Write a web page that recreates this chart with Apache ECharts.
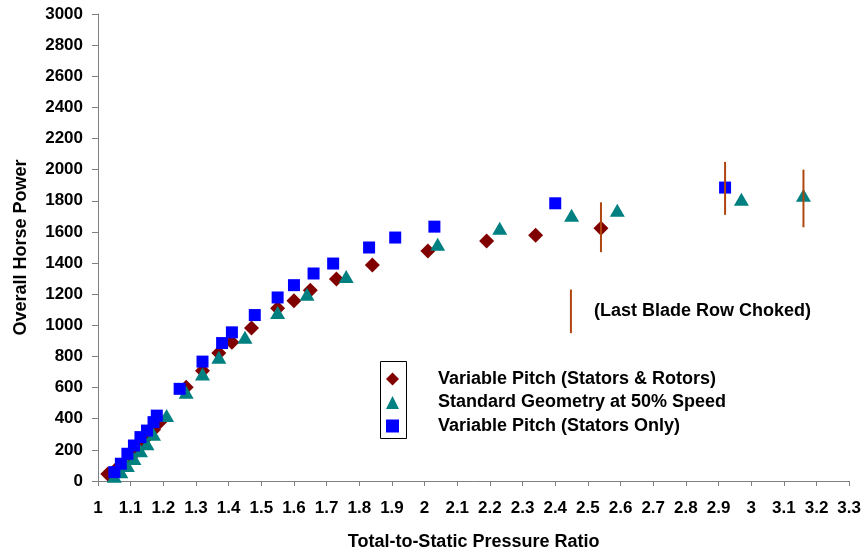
<!DOCTYPE html>
<html>
<head>
<meta charset="utf-8">
<script src="https://cdn.jsdelivr.net/npm/echarts@6/dist/echarts.min.js"></script>
<style>
  html, body { margin: 0; padding: 0; background: #fff; }
  #chart { width: 864px; height: 556px; }
</style>
</head>
<body>
<div id="chart"></div>
<script>
// pressure ratio / horse power
var rotorsX = [1.03, 1.06, 1.09, 1.11, 1.13, 1.15, 1.17, 1.19, 1.27, 1.32, 1.37, 1.41, 1.47, 1.55, 1.60, 1.65, 1.73, 1.84, 2.01, 2.19, 2.34, 2.54];
var rotorsY = [45, 85, 130, 175, 225, 285, 330, 380, 602, 709, 822, 891, 983, 1109, 1158, 1226, 1297, 1387, 1478, 1542, 1579, 1624];

var standardX = [1.05, 1.07, 1.09, 1.11, 1.13, 1.15, 1.17, 1.21, 1.27, 1.32, 1.37, 1.45, 1.55, 1.64, 1.76, 2.04, 2.23, 2.45, 2.59, 2.97, 3.16];
var standardY = [30, 60, 100, 145, 195, 240, 300, 420, 570, 688, 795, 923, 1083, 1200, 1314, 1521, 1624, 1707, 1739, 1810, 1835];

var statorsX = [1.05, 1.07, 1.09, 1.11, 1.13, 1.15, 1.17, 1.18, 1.25, 1.32, 1.38, 1.41, 1.48, 1.55, 1.60, 1.66, 1.72, 1.83, 1.91, 2.03, 2.40, 2.92];
var statorsY = [57, 111, 175, 228, 282, 324, 378, 420, 592, 767, 886, 955, 1066, 1179, 1258, 1333, 1397, 1500, 1564, 1634, 1784, 1885];

// choked-row bars (last one is the key next to the note)
var chokeX = [2.54, 2.92, 3.16, 2.448];
var chokeLo = [1470, 1710, 1630, 950];
var chokeHi = [1790, 2050, 2000, 1230];

var names = ['Variable Pitch (Stators & Rotors)', 'Standard Geometry at 50% Speed', 'Variable Pitch (Stators Only)'];

function pairs(xs, ys) {
  return xs.map(function (x, i) { return [x, ys[i]]; });
}

var chart = echarts.init(document.getElementById('chart'));
var font = 'Liberation Sans, Arial, sans-serif';

chart.setOption({
  animation: false,
  backgroundColor: '#fff',
  grid: { left: 98, right: 14, top: 14, bottom: 74 },
  xAxis: {
    type: 'value',
    min: 1, max: 3.3, interval: 0.1,
    name: 'Total-to-Static Pressure Ratio',
    nameLocation: 'middle',
    nameGap: 52,
    nameTextStyle: { fontFamily: font, fontWeight: 'bold', fontSize: 18, color: '#000' },
    axisLine: { lineStyle: { color: '#808080', width: 1 } },
    axisTick: { length: 5, lineStyle: { color: '#808080' } },
    splitLine: { show: false },
    axisLabel: {
      margin: 19,
      fontFamily: font, fontWeight: 'bold', fontSize: 17, color: '#000',
      formatter: function (v) { return String(Math.round(v * 10) / 10); }
    }
  },
  yAxis: {
    type: 'value',
    min: 0, max: 3000, interval: 200,
    name: 'Overall Horse Power',
    nameLocation: 'middle',
    nameGap: 68,
    nameTextStyle: { fontFamily: font, fontWeight: 'bold', fontSize: 18, color: '#000' },
    axisLine: { show: true, lineStyle: { color: '#808080', width: 1 } },
    axisTick: { show: true, length: 6, lineStyle: { color: '#808080' } },
    splitLine: { show: false },
    axisLabel: {
      margin: 15, fontFamily: font, fontWeight: 'bold', fontSize: 17, color: '#000',
      formatter: function (v) { return String(v); }
    }
  },
  legend: {
    orient: 'vertical',
    left: 386, top: 370,
    padding: 0,
    itemWidth: 13, itemHeight: 13, itemGap: 5.5,
    data: names,
    textStyle: { fontFamily: font, fontWeight: 'bold', fontSize: 18, color: '#000', padding: [0, 0, 0, 34] }
  },
  graphic: [
    {
      type: 'rect',
      shape: { x: 380.5, y: 361.5, width: 26, height: 77 },
      style: { fill: 'none', stroke: '#000', lineWidth: 1 }
    },
    {
      type: 'text',
      x: 594, y: 311,
      style: {
        text: '(Last Blade Row Choked)',
        font: 'bold 18px ' + font,
        fill: '#000',
        textVerticalAlign: 'middle'
      }
    }
  ],
  series: [
    {
      name: names[0], type: 'scatter',
      symbol: 'diamond', symbolSize: [15, 15],
      itemStyle: { color: '#800000', opacity: 1 },
      data: pairs(rotorsX, rotorsY)
    },
    {
      name: names[1], type: 'scatter',
      symbol: 'triangle', symbolSize: [15, 13],
      itemStyle: { color: '#008080', opacity: 1 },
      data: pairs(standardX, standardY)
    },
    {
      name: names[2], type: 'scatter',
      symbol: 'rect', symbolSize: [12, 12],
      itemStyle: { color: '#0000ff', opacity: 1 },
      data: pairs(statorsX, statorsY)
    },
    {
      type: 'custom',
      z: 5,
      silent: true,
      data: chokeX.map(function (x, i) { return [x, chokeLo[i], chokeHi[i]]; }),
      renderItem: function (params, api) {
        var lo = api.coord([api.value(0), api.value(1)]);
        var hi = api.coord([api.value(0), api.value(2)]);
        return {
          type: 'line',
          shape: { x1: lo[0], y1: lo[1], x2: hi[0], y2: hi[1] },
          style: { stroke: '#b0460f', lineWidth: 2 }
        };
      }
    }
  ]
});
</script>
</body>
</html>
